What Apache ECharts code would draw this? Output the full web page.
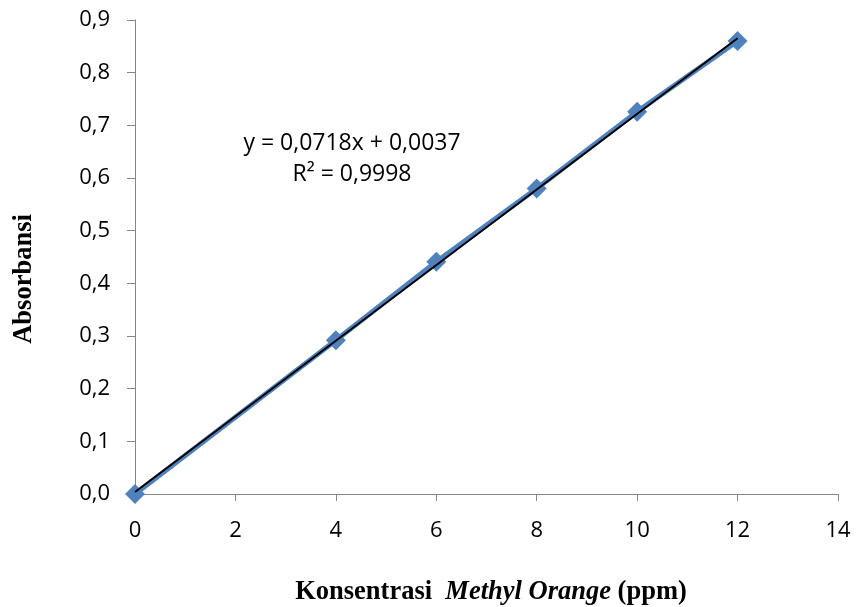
<!DOCTYPE html>
<html>
<head>
<meta charset="utf-8">
<script src="https://cdn.jsdelivr.net/npm/echarts@6/dist/echarts.min.js"></script>
<style>html,body{margin:0;padding:0;background:#fff}#c{width:856px;height:607px}</style>
</head>
<body>
<div id="c"></div>
<script>
var concentrations = [0, 4, 6, 8, 10, 12];
var absorbance = [0.000, 0.292, 0.441, 0.580, 0.726, 0.860];
var trendX = [0, 12];
var trendY = [0.0037, 0.8653];
var equationText = 'y = 0,0718x + 0,0037';
var r2Text = 'R² = 0,9998';
var xTitle = ['Konsentrasi  ', 'Methyl Orange', ' (ppm)'];
var yTitle = 'Absorbansi';

function fmt(v, d) { return v.toFixed(d).replace('.', ','); }

var chart = echarts.init(document.getElementById('c'), null, {renderer: 'canvas'});
var tickFont = '"Open Sans", "Liberation Sans", sans-serif';
var serif = '"Liberation Serif", "Times New Roman", serif';
chart.setOption({
  animation: false,
  grid: {left: 135, right: 18, top: 20, bottom: 113},
  xAxis: {
    type: 'value', min: 0, max: 14, interval: 2,
    axisLine: {show: true, lineStyle: {color: '#868686', width: 1}},
    axisTick: {show: true, inside: false, length: 7, lineStyle: {color: '#868686'}},
    splitLine: {show: false},
    axisLabel: {color: '#000', fontSize: 22, fontFamily: tickFont, margin: 26, formatter: function(v){return String(v);}}
  },
  yAxis: {
    type: 'value', min: 0, max: 0.9, interval: 0.1,
    axisLine: {show: true, lineStyle: {color: '#868686', width: 1}},
    axisTick: {show: true, inside: false, length: 8, lineStyle: {color: '#868686'}},
    splitLine: {show: false},
    axisLabel: {color: '#000', fontSize: 22, fontFamily: tickFont, margin: 25, formatter: function(v){return fmt(v, 1);}}
  },
  series: [
    {
      type: 'line', name: 'data',
      data: concentrations.map(function(x, i){return [x, absorbance[i]];}),
      symbol: 'diamond', symbolSize: 20,
      itemStyle: {color: '#4f81bd'},
      lineStyle: {color: '#4f81bd', width: 5},
      z: 2
    },
    {
      type: 'line', name: 'trend',
      data: trendX.map(function(x, i){return [x, trendY[i]];}),
      symbol: 'none',
      lineStyle: {color: '#000', width: 2},
      z: 3
    }
  ],
  graphic: [
    {type: 'text', x: 352, y: 143, style: {text: equationText, textAlign: 'center', textVerticalAlign: 'middle', fontSize: 23, fontFamily: tickFont, fill: '#000'}},
    {type: 'text', x: 352, y: 174, style: {text: r2Text, textAlign: 'center', textVerticalAlign: 'middle', fontSize: 23, fontFamily: tickFont, fill: '#000'}},
    {type: 'text', x: 24, y: 279, rotation: Math.PI / 2, style: {text: yTitle, textAlign: 'center', textVerticalAlign: 'middle', fontSize: 26.5, fontWeight: 'bold', fontFamily: serif, fill: '#000'}},
    {type: 'text', x: 491, y: 592, style: {
      text: '{b|' + xTitle[0] + '}{i|' + xTitle[1] + '}{b|' + xTitle[2] + '}',
      textAlign: 'center', textVerticalAlign: 'middle',
      rich: {
        b: {fontFamily: serif, fontWeight: 'bold', fontSize: 26.5, fill: '#000', color: '#000'},
        i: {fontFamily: serif, fontWeight: 'bold', fontStyle: 'italic', fontSize: 26.5, fill: '#000', color: '#000'}
      }
    }}
  ]
});
</script>
</body>
</html>
